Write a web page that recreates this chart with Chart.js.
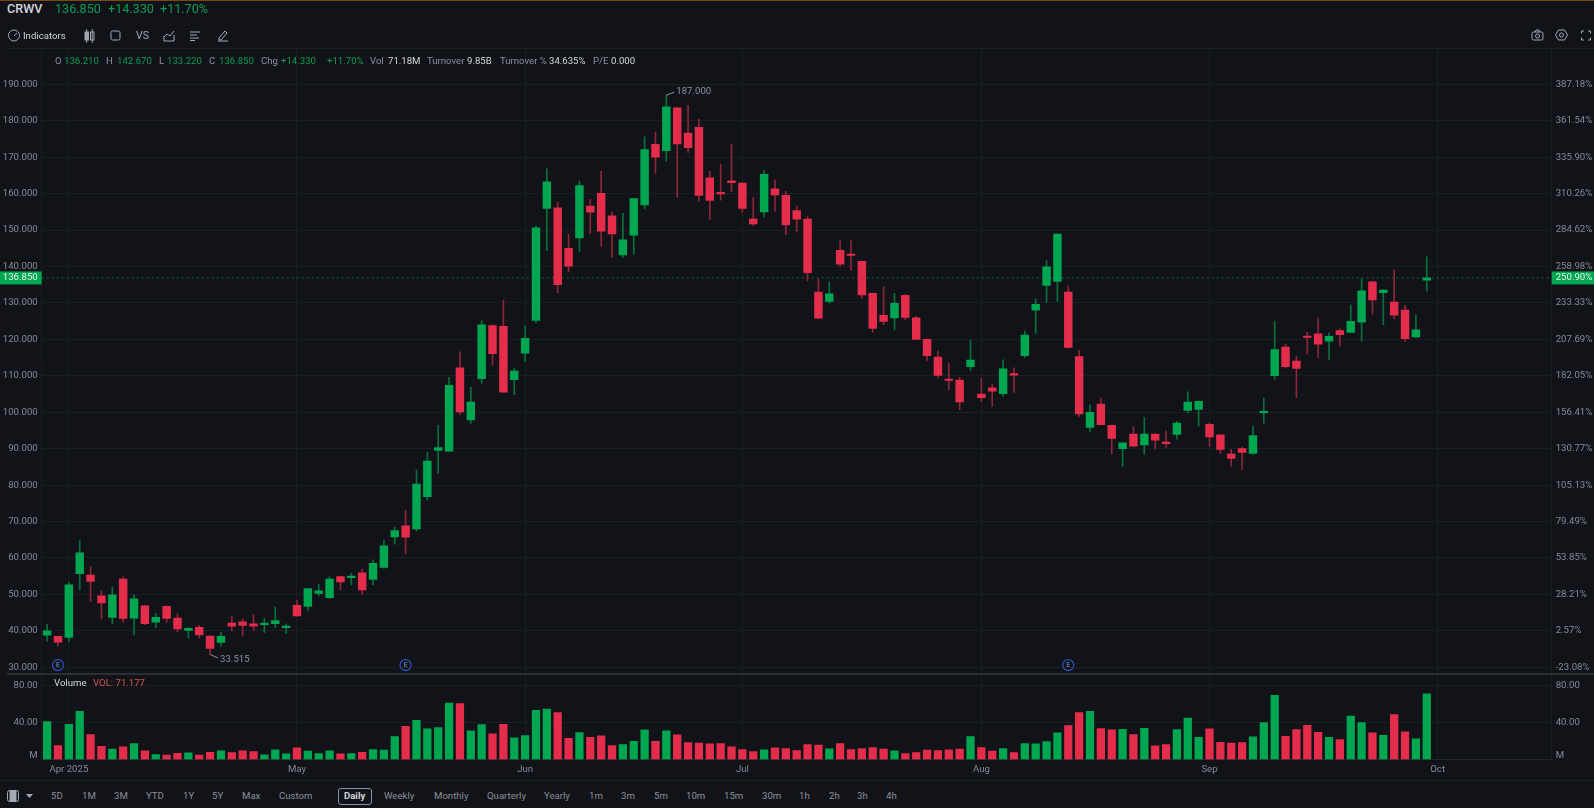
<!DOCTYPE html>
<html>
<head>
<meta charset="utf-8">
<title>CRWV</title>
<script src="https://cdn.jsdelivr.net/npm/chart.js@4/dist/chart.umd.min.js"></script>
<style>
html, body { margin: 0; padding: 0; background: #111318; overflow: hidden; }
body { width: 1594px; height: 808px; position: relative; font-family: Roboto, sans-serif; font-size: 9.6px; color: #8b909c; }
canvas { position: absolute; left: 0; }
#priceChart { top: 48px; }
#volChart { top: 674px; }
.t { position: absolute; white-space: nowrap; line-height: 12px; }
.line { position: absolute; }
.g { color: #0d9c55; }
.w { color: #d3d6dc; }
svg { position: absolute; fill: none; stroke: #a3a8b2; stroke-width: 1; }
#daily { position: absolute; left: 338px; top: 788px; width: 32px; height: 15px; border: 1px solid #8b909c; border-radius: 3px; }
</style>
</head>
<body>
<div class="line" style="left:0;top:0;width:1594px;height:1px;background:#7a4a14"></div>
<div class="line" style="left:7px;top:48px;width:1587px;height:1px;background:#1b1e24"></div>
<div class="line" style="left:0;top:780px;width:1594px;height:1px;background:#1b1e24"></div>

<canvas id="priceChart" width="1594" height="626"></canvas>
<canvas id="volChart" width="1594" height="106"></canvas>
<div class="line" style="left:7px;top:673px;width:1587px;height:2px;background:#2a2e35"></div>

<div id="labels"></div>
<div id="daily"></div>

<!-- toolbar icons -->
<svg style="left:7px;top:29px" width="14" height="13"><circle cx="7" cy="6.5" r="5.5"/><path d="M7 7 L10 4"/></svg>
<svg style="left:84px;top:29px" width="11" height="14"><path d="M2.7 0 V14 M8.2 0 V14"/><rect x="1" y="3" width="3.5" height="8" fill="#a3a8b2"/><rect x="6.5" y="3" width="3.5" height="8"/></svg>
<svg style="left:110px;top:30px" width="11" height="11"><rect x="1" y="1" width="9" height="9" rx="1.5"/></svg>
<svg style="left:163px;top:30px" width="12" height="12"><path d="M1 6 V11 H11 V5 M1 7 L4 4 L7 6 L11 1"/></svg>
<svg style="left:190px;top:31px" width="11" height="10"><path d="M0 1 H10 M0 4 H7 M0 7 H9 M0 9.5 H5"/></svg>
<svg style="left:217px;top:29px" width="12" height="13"><path d="M2 9 L8 2 L10 4 L4 11 H2 Z M1 12 H11"/></svg>
<svg style="left:1531px;top:29px" width="13" height="12"><rect x="1" y="3" width="11" height="8" rx="1.5"/><circle cx="6.5" cy="7" r="2"/><path d="M4 3 L5 1 H8 L9 3"/></svg>
<svg style="left:1555px;top:29px" width="13" height="12"><path d="M3.5 1 H9.5 L12.5 6 L9.5 11 H3.5 L0.5 6 Z"/><circle cx="6.5" cy="6" r="2"/></svg>
<svg style="left:1581px;top:30px" width="10" height="11" stroke-dasharray="3 1"><path d="M0.5 1 H3 M7 1 H9.5 M0.5 10 H3 M7 10 H9.5 M0.5 1 V3.5 M9.5 1 V3.5 M0.5 10 V7.5 M9.5 10 V7.5"/></svg>
<svg style="left:7px;top:790px" width="12" height="12"><rect x="0.5" y="0.5" width="11" height="11" rx="2"/><rect x="3" y="1" width="6" height="10" fill="#a3a8b2"/></svg>
<svg style="left:26px;top:794px;stroke:none" width="7" height="5"><path d="M0 0 H7 L3.5 4 Z" fill="#a3a8b2"/></svg>

<script>
// trading days, Mar 28 to Sep 30 2025
const dates = [
  '03-28','03-31',
  '04-01','04-02','04-03','04-04','04-07','04-08','04-09','04-10','04-11','04-14','04-15','04-16','04-17','04-21','04-22','04-23','04-24','04-25','04-28','04-29','04-30',
  '05-01','05-02','05-05','05-06','05-07','05-08','05-09','05-12','05-13','05-14','05-15','05-16','05-19','05-20','05-21','05-22','05-23','05-27','05-28','05-29','05-30',
  '06-02','06-03','06-04','06-05','06-06','06-09','06-10','06-11','06-12','06-13','06-16','06-17','06-18','06-20','06-23','06-24','06-25','06-26','06-27','06-30',
  '07-01','07-02','07-03','07-07','07-08','07-09','07-10','07-11','07-14','07-15','07-16','07-17','07-18','07-21','07-22','07-23','07-24','07-25','07-28','07-29','07-30','07-31',
  '08-01','08-04','08-05','08-06','08-07','08-08','08-11','08-12','08-13','08-14','08-15','08-18','08-19','08-20','08-21','08-22','08-25','08-26','08-27','08-28','08-29',
  '09-02','09-03','09-04','09-05','09-08','09-09','09-10','09-11','09-12','09-15','09-16','09-17','09-18','09-19','09-22','09-23','09-24','09-25','09-26','09-29','09-30'
];
// empty slots right of the last candle
const futureDates = ['10-01','10-02','10-03','10-06','10-07','10-08','10-09','10-10','10-13','10-14','10-15'];

const opens = [
  38.8,38.5,38.2,55.7,55.3,49.6,43.7,54.2,43.5,46.9,
  42.4,46.7,43.5,40.1,41,38.6,36.8,42.1,42.5,41.9,
  41.7,42,40.9,47,46.7,50.3,49.1,54.9,54.6,55.9,
  54.1,57.4,65.8,68.8,67.95,76.8,89.5,89.3,112.2,97.9,
  109.2,123.8,123.6,108.9,116.2,125.2,155.9,156.1,145,147.8,
  156.6,160.1,153.9,143.2,148.6,156.9,173.5,171.8,183.5,176.6,
  178.2,164.3,160.3,163.5,162.9,153,155,161.3,159.5,155.3,
  153,133,130.4,144.4,143.3,141.4,132.6,126.6,125.9,132.1,
  125.9,120,115.1,109,108.8,112.5,105,106.7,105.1,110.5,
  115.5,128,134.8,135.9,133,115.3,95.8,102.2,96.4,90,
  94,91,94,91.8,93.9,100.5,100.8,96.7,93.8,88.5,
  90,88.7,99.8,110,117.9,114,120.9,121.5,119.5,122.4,
  121.9,124.7,135.8,132.8,130.2,128,120.65,136.21
];
const highs = [
  41.8,38.6,53.3,64.7,57.6,51,52,54.8,49.9,47,
  44.8,46.8,44.7,40.8,41.5,38.6,39.6,43.9,43.4,44.4,
  43.3,46.5,41.9,48.4,51.7,52.8,54.8,55,55.8,56.9,
  59.5,64.9,68.5,73,84.1,89,96.4,109.6,116.6,106.8,
  125.1,123.9,130.8,112.1,123.7,151.1,166.8,157.6,148.9,163.4,
  158.4,166.1,154.9,154.6,158.7,175.6,176.9,187,183.7,184.2,
  180.4,166.1,168.1,173.5,163,158.9,166.4,163.8,160.6,156.6,
  153.7,136.5,135.8,147,147.1,141.5,132.7,134.4,132.6,132.2,
  126.4,120.1,116.8,113.5,109.6,119.8,109.4,107.7,114.4,112.2,
  122.3,131.1,141.6,148.9,134.6,117,102,103.9,96.5,91.7,
  96,98.6,94.1,94.8,97.5,105.6,103.1,97.1,93.8,89.8,
  90.4,96.2,103.9,125,118.6,115.35,121.9,125.9,121.8,122.85,
  129.4,136.6,135.9,133.7,139,129.3,126.6,142.67
];
const lows = [
  37.2,35.9,37,51.2,48,43.3,42,42.3,38.9,41.7,
  40.9,42.3,39.8,38,38.1,33.515,35.8,40,38.6,40,
  39.6,40.9,39.2,44,45.6,49.6,48.9,51.2,52.6,49.9,
  52.7,57.15,63.8,61.2,67.4,75.9,83.2,89.2,99.4,96.95,
  107.9,112.9,105.4,104.8,113.9,124.6,144.3,132.8,138.6,144.1,
  149,145.5,142.4,142.4,143.4,155.8,165.5,168.9,159,171.3,
  157.9,152.9,158.2,160.5,154.9,151.2,153.6,155.2,148.7,149.6,
  136,125.7,129.9,140,138.9,131.2,122,124,122.6,125.3,
  119.9,114.1,109.4,106.1,100.7,111.3,102.9,101.5,104.4,105.4,
  115,121.6,130.1,130.4,117.5,98.7,94.6,96.6,88.6,85.1,
  90.6,88.5,89.9,90.3,92.6,99.8,96.2,90.6,88.7,85.1,
  84.2,88.5,96.96,109,112.1,104,116,115,114.5,118.1,
  121.9,119.4,127,124,125.7,119.4,120.4,133.22
];
const closes = [
  40,36.9,52.6,61.4,53.6,47.7,49.9,43.4,48.8,42,
  43.7,43.4,40.5,40.7,38.9,35.2,38.5,41.3,41.5,41.3,
  42.1,42.8,41.3,44.1,51.6,51,54.2,53.4,54.9,51.2,
  58.5,63.3,67.5,65.7,80.3,86.6,90.3,107.4,100.1,102.8,
  124,116.1,105.5,111.3,120.3,150.6,163.2,135,140.1,162.2,
  154.9,149.7,148.9,147.3,158.6,172.1,170,183.8,173.6,172.6,
  159.5,158.1,159.9,163,155.9,151.7,165.3,159.6,151.4,153,
  138.3,125.8,132.5,140.6,143,132.2,123,124.9,129.9,126,
  120,115.5,110.1,108.7,102.8,114.3,104,105.8,111.9,110.2,
  121.2,129.6,139.9,148.9,117.8,99.5,100,96.6,92.8,91.6,
  90.7,94,92.3,91.4,97,102.8,103,93.2,89.8,87.3,
  89,93.6,100.2,117.2,112.5,112,120.5,118.7,120.8,121.3,
  124.95,133.3,130.8,133.5,126.6,120.2,122.6,136.85
];
const volumes = [
  41.1,15.1,38.2,52.3,27,14.4,11.2,13.7,17.3,9.4,
  5.4,4.7,6.8,7.2,4.7,7.9,9.4,7.6,9.4,8.6,
  5,10.5,6.1,12.6,9,6.5,9.4,6.1,6.5,7.9,
  10.8,10.1,24.9,36,42.5,33.2,34.6,61.3,60.5,31,
  37.8,27.7,38.2,23.4,25.9,53.3,54.8,50.8,23,29.2,
  24.1,25.6,15.1,16.2,19.8,32.1,19.8,31,26.7,18.4,
  17.7,16.9,17.3,13.7,10.8,8.6,10.5,12.6,11.9,9.7,
  16.2,15.5,11.5,17.3,10.8,11.9,13,11.2,9.4,6.5,
  7.6,10.1,9.7,10.5,11.2,24.9,13,9,11.9,7.6,
  17.3,16.9,19.5,28.8,36.8,50.8,52.3,33.5,32.1,32.8,
  27,33.9,14.8,16.2,32.4,45,24.1,33.2,18.7,17.7,
  18.4,24.5,40,69.5,25.2,32.4,37.1,29.5,24.1,21.6,
  47.2,40,28.8,26.3,48.6,29.9,22.3,71.18
];

const priceTicks = [190,180,170,160,150,140,130,120,110,100,90,80,70,60,50,40,30];
const pctTicks = ['387.18%','361.54%','335.90%','310.26%','284.62%','258.98%','233.33%','207.69%','182.05%','156.41%','130.77%','105.13%','79.49%','53.85%','28.21%','2.57%','-23.08%'];
// the M unit label sits a little above the zero line
const volTicks = [80,40,4];
const volTickLabels = ['80.00','40.00','M'];
const monthDates = ['04-01','05-01','06-02','07-01','08-01','09-02','10-01'];
const monthLabels = ['Apr 2025','May','Jun','Jul','Aug','Sep','Oct'];
const earningsDates = ['03-31','05-15','08-13'];
const lastPrice = 136.85;
const lastPriceText = '136.850';
const lastPctText = '250.90%';
const highText = '187.000';
const lowText = '33.515';

const green = '#00a650';
const red = '#e42d4b';
const greenWick = '#08703f';
const redWick = '#8e2539';
const gridColor = '#1a1d23';
const tickColor = '#858b98';
const tickFont = { family: 'Roboto', size: 9.6 };

const allDates = dates.concat(futureDates);
const isUp = i => closes[i] >= opens[i];
const monthLabel = i => {
  const m = monthDates.indexOf(allDates[i]);
  return m >= 0 ? monthLabels[m] : '';
};

function xScale(showLabels) {
  return {
    offset: true,
    border: { display: showLabels, color: '#23262d' },
    grid: {
      offset: false,
      drawTicks: false,
      color: ctx => monthLabel(ctx.index) ? gridColor : 'transparent'
    },
    ticks: {
      display: showLabels,
      autoSkip: false,
      maxRotation: 0,
      padding: 4,
      color: tickColor,
      font: tickFont,
      callback: (v, i) => monthLabel(i)
    },
    afterFit: s => {
      s.height = showLabels ? 20.5 : 0;
      s.paddingLeft = 0;
      s.paddingRight = 0;
    }
  };
}

function yScale(pos, min, max, tickList, labelList, width) {
  return {
    position: pos,
    min: min,
    max: max,
    border: { display: true, color: gridColor },
    grid: {
      drawTicks: false,
      color: ctx => ctx.tick && labelList[tickList.indexOf(ctx.tick.value)] === 'M' ? 'transparent' : gridColor
    },
    ticks: {
      padding: 4,
      color: tickColor,
      font: tickFont,
      callback: v => labelList[tickList.indexOf(v)]
    },
    afterBuildTicks: s => { s.ticks = tickList.map(v => ({ value: v })); },
    afterFit: s => {
      s.width = width;
      s.paddingTop = 0;
      s.paddingBottom = 0;
    }
  };
}

// last price line goes under the candles
const priceLine = {
  id: 'priceLine',
  beforeDatasetsDraw(chart) {
    const c = chart.ctx, a = chart.chartArea;
    const y = chart.scales.y.getPixelForValue(lastPrice);
    c.save();
    c.strokeStyle = '#0b6e40';
    c.setLineDash([2, 3]);
    c.beginPath();
    c.moveTo(a.left, y);
    c.lineTo(a.right, y);
    c.stroke();
    c.restore();
  }
};

// tags, high/low notes and earnings markers
const notes = {
  id: 'notes',
  afterDraw(chart) {
    const c = chart.ctx, a = chart.chartArea;
    const xs = chart.scales.x, ys = chart.scales.y;
    const y = ys.getPixelForValue(lastPrice);
    c.save();
    c.fillStyle = green;
    c.fillRect(0, y - 6.5, a.left, 13);
    c.fillRect(a.right, y - 6.5, 1594 - a.right, 13);
    c.font = '9.6px Roboto';
    c.textBaseline = 'middle';
    c.fillStyle = '#e8f5ee';
    c.textAlign = 'right';
    c.fillText(lastPriceText, a.left - 4, y);
    c.textAlign = 'left';
    c.fillText(lastPctText, a.right + 4, y);

    // high and low
    c.strokeStyle = '#8b909c';
    c.fillStyle = '#8b909c';
    const hi = highs.indexOf(Math.max(...highs));
    const hx = xs.getPixelForValue(hi), hy = ys.getPixelForValue(highs[hi]);
    c.beginPath();
    c.moveTo(hx, hy);
    c.lineTo(hx + 8, hy - 3);
    c.stroke();
    c.fillText(highText, hx + 10, hy - 4);
    const lo = lows.indexOf(Math.min(...lows));
    const lx = xs.getPixelForValue(lo), ly = ys.getPixelForValue(lows[lo]);
    c.beginPath();
    c.moveTo(lx, ly);
    c.lineTo(lx + 8, ly + 3.5);
    c.stroke();
    c.fillText(lowText, lx + 10, ly + 5.5);

    // earnings
    c.strokeStyle = '#2b55c4';
    c.lineWidth = 1.2;
    c.fillStyle = '#7f9be0';
    c.font = '7px Roboto';
    c.textAlign = 'center';
    earningsDates.forEach(d => {
      const ex = xs.getPixelForValue(allDates.indexOf(d));
      const ey = ys.getPixelForValue(30.6);
      c.beginPath();
      c.arc(ex, ey, 5.5, 0, Math.PI * 2);
      c.stroke();
      c.fillText('E', ex, ey + 0.5);
    });
    c.restore();
  }
};

new Chart(document.getElementById('priceChart'), {
  type: 'bar',
  plugins: [priceLine, notes],
  data: {
    labels: allDates,
    datasets: [
      {
        data: dates.map((d, i) => [lows[i], highs[i]]),
        barThickness: 1,
        grouped: false,
        order: 2,
        backgroundColor: ctx => isUp(ctx.dataIndex) ? greenWick : redWick
      },
      {
        data: dates.map((d, i) => [opens[i], closes[i]]),
        barThickness: 7.8,
        minBarLength: 1.5,
        grouped: false,
        order: 1,
        backgroundColor: ctx => isUp(ctx.dataIndex) ? green : red
      }
    ]
  },
  options: {
    responsive: false,
    animation: false,
    events: [],
    plugins: { legend: { display: false }, tooltip: { enabled: false } },
    scales: {
      x: xScale(false),
      y: yScale('left', 28.16, 199.95, priceTicks, priceTicks.map(v => v.toFixed(3)), 41.7),
      y2: yScale('right', 28.16, 199.95, priceTicks, pctTicks, 42.3)
    }
  }
});

new Chart(document.getElementById('volChart'), {
  type: 'bar',
  data: {
    labels: allDates,
    datasets: [{
      data: volumes,
      barThickness: 7.6,
      backgroundColor: ctx => isUp(ctx.dataIndex) ? green : red
    }]
  },
  options: {
    responsive: false,
    animation: false,
    events: [],
    plugins: { legend: { display: false }, tooltip: { enabled: false } },
    scales: {
      x: xScale(true),
      y: yScale('left', 0, 92.7, volTicks, volTickLabels, 41.7),
      y2: yScale('right', 0, 92.7, volTicks, volTickLabels, 42.3)
    }
  }
});

// page text: left, centre y, text, class, optional style
const texts = [
  [7, 9, 'CRWV', 'w', 'font-size:12.6px;font-weight:500'],
  [55, 9, '136.850', 'g', 'font-size:12.6px'],
  [108, 9, '+14.330', 'g', 'font-size:12.6px'],
  [160, 9, '+11.70%', 'g', 'font-size:12.6px'],
  [23, 35.5, 'Indicators', 'w'],
  [136, 35.5, 'VS', '', 'font-size:10.5px;color:#a3a8b2'],
  [55, 60.5, 'O', ''], [64, 60.5, '136.210', 'g'],
  [106, 60.5, 'H', ''], [117, 60.5, '142.670', 'g'],
  [159, 60.5, 'L', ''], [167, 60.5, '133.220', 'g'],
  [209, 60.5, 'C', ''], [219, 60.5, '136.850', 'g'],
  [261, 60.5, 'Chg', ''], [281, 60.5, '+14.330', 'g'], [327, 60.5, '+11.70%', 'g'],
  [370, 60.5, 'Vol', ''], [388, 60.5, '71.18M', 'w'],
  [427, 60.5, 'Turnover', ''], [467, 60.5, '9.85B', 'w'],
  [500, 60.5, 'Turnover %', ''], [549, 60.5, '34.635%', 'w'],
  [593, 60.5, 'P/E', ''], [611, 60.5, '0.000', 'w'],
  [54, 683, 'Volume', 'w'], [93, 683, 'VOL: 71.177', '', 'color:#d2544f'],
  [51, 796, '5D', ''], [82, 796, '1M', ''], [114, 796, '3M', ''], [146, 796, 'YTD', ''],
  [183, 796, '1Y', ''], [212, 796, '5Y', ''], [242, 796, 'Max', ''], [279, 796, 'Custom', ''],
  [344, 796, 'Daily', 'w', 'font-weight:700'], [384, 796, 'Weekly', ''], [434, 796, 'Monthly', ''],
  [487, 796, 'Quarterly', ''], [544, 796, 'Yearly', ''], [589, 796, '1m', ''], [621, 796, '3m', ''],
  [654, 796, '5m', ''], [686, 796, '10m', ''], [724, 796, '15m', ''], [762, 796, '30m', ''],
  [799, 796, '1h', ''], [829, 796, '2h', ''], [857, 796, '3h', ''], [886, 796, '4h', '']
];
const box = document.getElementById('labels');
texts.forEach(t => {
  const el = document.createElement('div');
  el.className = 't ' + t[3];
  el.textContent = t[2];
  el.style.left = t[0] + 'px';
  el.style.top = (t[1] - 6) + 'px';
  if (t[4]) el.style.cssText += ';' + t[4];
  box.appendChild(el);
});
</script>
</body>
</html>
